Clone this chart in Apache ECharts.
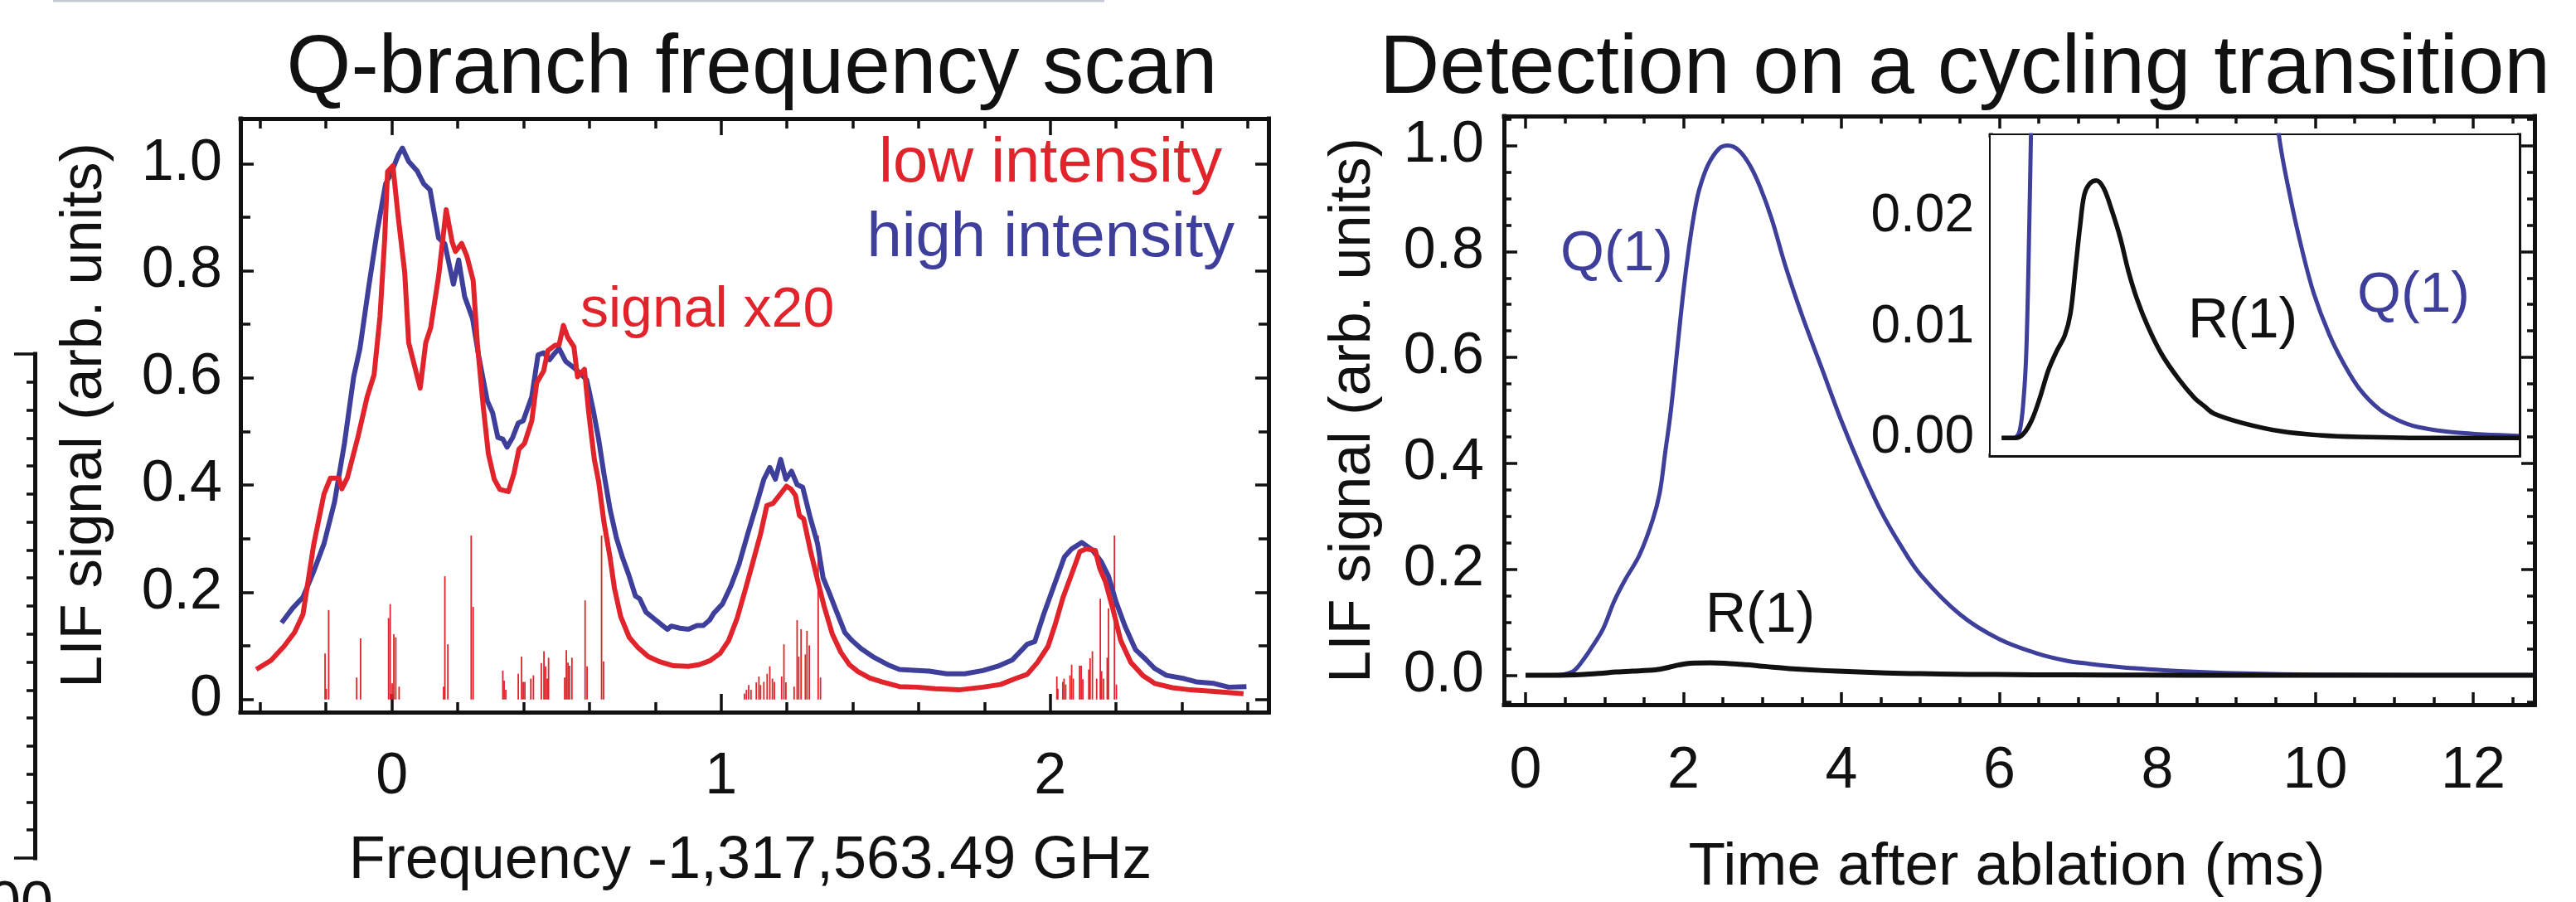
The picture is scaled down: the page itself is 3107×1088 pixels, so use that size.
<!DOCTYPE html>
<html>
<head>
<meta charset="utf-8">
<script src="https://cdn.jsdelivr.net/npm/echarts@6/dist/echarts.min.js"></script>
<style>
html,body{margin:0;padding:0;background:#fff;}
#c{width:3107px;height:1088px;}
</style>
</head>
<body>
<div id="c"></div>
<script>
// ---------------- DATA ----------------
// Left panel: Q-branch frequency scan  [frequency offset (GHz), LIF signal]
const lowIntensity = [[-0.412,0.056],[-0.367,0.073],[-0.328,0.099],[-0.296,0.125],[-0.270,0.159],[-0.238,0.287],[-0.206,0.384],[-0.187,0.413],[-0.161,0.413],[-0.152,0.393],[-0.135,0.414],[-0.103,0.49],[-0.075,0.565],[-0.054,0.606],[-0.036,0.715],[-0.022,0.857],[-0.013,0.985],[0.003,0.996],[0.019,0.902],[0.039,0.797],[0.051,0.666],[0.086,0.581],[0.103,0.666],[0.118,0.694],[0.142,0.790],[0.165,0.914],[0.183,0.854],[0.193,0.836],[0.212,0.851],[0.228,0.827],[0.247,0.782],[0.260,0.662],[0.277,0.550],[0.293,0.459],[0.311,0.411],[0.328,0.392],[0.354,0.388],[0.371,0.422],[0.386,0.467],[0.403,0.478],[0.425,0.520],[0.440,0.591],[0.461,0.613],[0.474,0.651],[0.496,0.661],[0.508,0.662],[0.521,0.698],[0.534,0.676],[0.553,0.658],[0.564,0.602],[0.585,0.616],[0.598,0.535],[0.615,0.448],[0.628,0.407],[0.644,0.332],[0.663,0.264],[0.676,0.208],[0.695,0.155],[0.721,0.116],[0.746,0.098],[0.779,0.080],[0.811,0.071],[0.856,0.063],[0.901,0.062],[0.933,0.065],[0.965,0.072],[0.997,0.086],[1.023,0.110],[1.049,0.152],[1.075,0.208],[1.097,0.257],[1.120,0.309],[1.139,0.362],[1.158,0.366],[1.181,0.384],[1.199,0.398],[1.212,0.393],[1.226,0.381],[1.238,0.343],[1.251,0.337],[1.271,0.279],[1.293,0.223],[1.313,0.174],[1.338,0.122],[1.364,0.088],[1.390,0.065],[1.416,0.052],[1.452,0.040],[1.488,0.033],[1.542,0.024],[1.596,0.023],[1.650,0.020],[1.723,0.018],[1.795,0.023],[1.849,0.028],[1.894,0.039],[1.930,0.047],[1.961,0.069],[1.993,0.099],[2.015,0.140],[2.038,0.189],[2.065,0.234],[2.090,0.276],[2.110,0.281],[2.137,0.278],[2.150,0.245],[2.168,0.219],[2.191,0.167],[2.214,0.110],[2.245,0.069],[2.281,0.045],[2.317,0.030],[2.371,0.022],[2.425,0.018],[2.497,0.015],[2.587,0.011]];

const highIntensity = [[-0.335,0.143],[-0.302,0.170],[-0.270,0.191],[-0.238,0.238],[-0.206,0.291],[-0.174,0.369],[-0.144,0.478],[-0.116,0.602],[-0.097,0.655],[-0.071,0.767],[-0.045,0.872],[-0.019,0.962],[-0.003,0.981],[0.019,1.015],[0.032,1.029],[0.051,1.004],[0.077,0.986],[0.097,0.962],[0.116,0.951],[0.142,0.861],[0.161,0.850],[0.187,0.775],[0.203,0.820],[0.221,0.752],[0.245,0.711],[0.264,0.640],[0.290,0.557],[0.306,0.535],[0.322,0.489],[0.337,0.486],[0.350,0.471],[0.367,0.489],[0.384,0.516],[0.399,0.520],[0.425,0.565],[0.444,0.643],[0.461,0.647],[0.479,0.634],[0.496,0.647],[0.508,0.655],[0.528,0.631],[0.553,0.619],[0.573,0.608],[0.592,0.596],[0.611,0.542],[0.628,0.486],[0.644,0.422],[0.663,0.354],[0.682,0.302],[0.701,0.264],[0.721,0.230],[0.740,0.193],[0.753,0.188],[0.772,0.163],[0.798,0.150],[0.824,0.137],[0.837,0.131],[0.849,0.137],[0.875,0.133],[0.901,0.131],[0.927,0.138],[0.946,0.138],[0.965,0.148],[0.978,0.161],[1.004,0.178],[1.030,0.212],[1.055,0.253],[1.081,0.309],[1.107,0.362],[1.130,0.411],[1.148,0.433],[1.165,0.411],[1.181,0.448],[1.197,0.411],[1.214,0.426],[1.231,0.401],[1.248,0.396],[1.271,0.339],[1.293,0.291],[1.310,0.227],[1.328,0.200],[1.349,0.167],[1.376,0.125],[1.398,0.110],[1.425,0.095],[1.461,0.080],[1.506,0.065],[1.542,0.056],[1.596,0.054],[1.632,0.053],[1.686,0.048],[1.740,0.048],[1.795,0.054],[1.840,0.062],[1.885,0.074],[1.930,0.103],[1.953,0.108],[1.980,0.159],[2.020,0.227],[2.043,0.266],[2.065,0.281],[2.096,0.293],[2.128,0.279],[2.155,0.257],[2.177,0.230],[2.200,0.182],[2.227,0.137],[2.259,0.093],[2.290,0.075],[2.317,0.058],[2.353,0.045],[2.407,0.039],[2.443,0.033],[2.497,0.030],[2.542,0.023],[2.596,0.024]];

// simulated stick spectrum [frequency, relative strength]
const stickSpectrum = [[-0.203,0.086],[-0.199,0.02],[-0.192,0.167],[-0.107,0.041],[-0.095,0.114],[-0.010,0.152],[-0.005,0.178],[0.001,0.03],[0.006,0.122],[0.012,0.116],[0.022,0.024],[0.157,0.024],[0.161,0.230],[0.170,0.103],[0.241,0.306],[0.247,0.173],[0.337,0.054],[0.341,0.035],[0.346,0.018],[0.384,0.048],[0.394,0.080],[0.399,0.033],[0.404,0.033],[0.422,0.039],[0.430,0.045],[0.454,0.068],[0.462,0.090],[0.467,0.062],[0.472,0.039],[0.476,0.078],[0.525,0.041],[0.530,0.092],[0.535,0.069],[0.540,0.063],[0.547,0.078],[0.587,0.185],[0.593,0.062],[0.637,0.306],[0.643,0.071],
[1.071,0.011],[1.077,0.018],[1.084,0.027],[1.091,0.018],[1.107,0.032],[1.115,0.043],[1.120,0.027],[1.130,0.033],[1.140,0.048],[1.148,0.062],[1.156,0.039],[1.162,0.033],[1.184,0.043],[1.191,0.103],[1.197,0.032],[1.222,0.024],[1.231,0.148],[1.236,0.080],[1.243,0.131],[1.256,0.084],[1.261,0.128],[1.268,0.101],[1.295,0.306],[1.302,0.041],
[2.020,0.043],[2.023,0.020],[2.038,0.033],[2.042,0.039],[2.047,0.028],[2.060,0.045],[2.065,0.065],[2.070,0.039],[2.089,0.063],[2.094,0.063],[2.099,0.038],[2.117,0.056],[2.121,0.077],[2.128,0.090],[2.141,0.039],[2.152,0.188],[2.156,0.053],[2.162,0.039],[2.173,0.078],[2.177,0.170],[2.195,0.306],[2.201,0.028]];

// Right panel: time after ablation (ms) vs LIF signal
const q1Signal = [[0,0],[0.30,0],[0.44,0.0006],[0.54,0.0035],[0.61,0.008],[0.68,0.019],[0.73,0.029],[0.81,0.046],[0.98,0.087],[1.12,0.139],[1.26,0.180],[1.44,0.226],[1.61,0.293],[1.70,0.345],[1.77,0.422],[1.84,0.499],[1.93,0.628],[2.00,0.726],[2.07,0.808],[2.14,0.875],[2.20,0.917],[2.31,0.963],[2.45,0.994],[2.56,1.0],[2.70,0.991],[2.84,0.963],[2.97,0.922],[3.12,0.860],[3.29,0.773],[3.50,0.68],[3.75,0.58],[4.00,0.48],[4.25,0.39],[4.50,0.31],[4.75,0.245],[5.00,0.19],[5.50,0.115],[6.00,0.068],[6.50,0.040],[6.85,0.0274],[7.14,0.0216],[7.43,0.0169],[7.71,0.0131],[8.09,0.0094],[8.47,0.0066],[8.85,0.0044],[9.33,0.0026],[9.80,0.0016],[10.28,0.0010],[11.23,0.0005],[12.78,0.0002]];
const r1Signal = [[0,0],[0.33,0],[0.53,0.00035],[0.74,0.0016],[0.94,0.0036],[1.15,0.0061],[1.35,0.0078],[1.56,0.0093],[1.70,0.0113],[1.83,0.0156],[1.94,0.0193],[2.04,0.0220],[2.17,0.0230],[2.34,0.0233],[2.52,0.0226],[2.72,0.0206],[2.93,0.0181],[3.13,0.0151],[3.34,0.0126],[3.61,0.0101],[3.95,0.0076],[4.36,0.0054],[4.77,0.0036],[5.00,0.0029],[5.25,0.0022],[5.96,0.00135],[6.91,0.0006],[7.86,0.00025],[8.81,0.0001],[10.71,0],[12.78,0]];

// Tick positions / labels
const freqLabels = [0, 1, 2];
const freqMinor = [-0.4,-0.2,0.2,0.4,0.6,0.8,1.2,1.4,1.6,1.8,2.2,2.4,2.6];
const sigLabelsL = [0, 0.2, 0.4, 0.6, 0.8, 1.0];
const sigMinorL = [0.1, 0.3, 0.5, 0.7, 0.9];
const timeLabels = [0, 2, 4, 6, 8, 10, 12];
const timeMinor = [0.5,1,1.5,2.5,3,3.5,4.5,5,5.5,6.5,7,7.5,8.5,9,9.5,10.5,11,11.5,12.5];
const sigLabelsR = [0, 0.2, 0.4, 0.6, 0.8, 1.0];
const sigMinorR = [0.05,0.1,0.15,0.25,0.3,0.35,0.45,0.5,0.55,0.65,0.7,0.75,0.85,0.9,0.95,1.05,-0.05];
const insetLabels = [0, 0.01, 0.02];
const insetMinor = [0.002,0.004,0.006,0.008,0.012,0.014,0.016,0.018,0.022,0.024,0.026];
const stubMajor = [0, 18];
const stubMinor = [1,2,3,4,5,6,7,8,9,10,11,12,13,14,15,16,17];

// ---------------- STYLE ----------------
const RED = '#e1232b', BLUE = '#3e3e9b', INK = '#111111';
const FONT = '"Liberation Sans", Arial, Helvetica, sans-serif';

function axis(grid, min, max, pos, opts) {
  const o = Object.assign({line: true, ticks: [], len: 10, labels: null, fmt: null, size: 68, margin: 20, name: null}, opts);
  const a = {
    type: 'value', gridIndex: grid, min: min, max: max, position: pos,
    axisLine: {show: o.line, onZero: false, lineStyle: {color: INK, width: 5, cap: 'square'}},
    axisTick: {show: o.ticks.length > 0, inside: true, length: o.len, customValues: o.ticks,
               lineStyle: {color: INK, width: 3.5}},
    axisLabel: o.labels ? {show: true, customValues: o.labels, formatter: o.fmt, fontSize: o.size,
               color: INK, fontFamily: FONT, margin: o.margin} : {show: false},
    splitLine: {show: false}, minorTick: {show: false}
  };
  if (o.name) Object.assign(a, o.name);
  return a;
}

const GL = {left: 290, top: 143, width: 1240, height: 716};   // left panel
const GR = {left: 1814, top: 140, width: 1243, height: 720};  // right panel
const GI = {left: 2401, top: 163, width: 637, height: 386};   // inset
const GS = {left: 2, top: 427, width: 40, height: 608};       // cropped neighbour axis

const xL = [-0.46, 2.663], yL = [-0.0236, 1.084];
const xR = [-0.273, 12.777], yR = [-0.0556, 1.0556];
const yI = [-0.00155, 0.0274];

const chart = echarts.init(document.getElementById('c'), null, {renderer: 'canvas'});

const xAxes = [
  // 0-3 left panel
  axis(0, xL[0], xL[1], 'bottom', {ticks: freqLabels, len: 22, labels: freqLabels, fmt: v => String(v), size: 70, margin: 44,
    name: {name: 'Frequency -1,317,563.49 GHz', nameLocation: 'middle', nameGap: 144,
           nameTextStyle: {fontSize: 72, color: INK, fontFamily: FONT, padding: [0, 10, 0, 0]}}}),
  axis(0, xL[0], xL[1], 'bottom', {line: false, ticks: freqMinor, len: 12}),
  axis(0, xL[0], xL[1], 'top', {ticks: freqLabels, len: 20}),
  axis(0, xL[0], xL[1], 'top', {line: false, ticks: freqMinor, len: 12}),
  // 4-7 right panel
  axis(1, xR[0], xR[1], 'bottom', {ticks: timeLabels, len: 15, labels: timeLabels, fmt: v => String(v), size: 70, margin: 46,
    name: {name: 'Time after ablation (ms)', nameLocation: 'middle', nameGap: 160,
           nameTextStyle: {fontSize: 73, color: INK, fontFamily: FONT, padding: [0, 30, 0, 0]}}}),
  axis(1, xR[0], xR[1], 'bottom', {line: false, ticks: timeMinor, len: 9}),
  axis(1, xR[0], xR[1], 'top', {ticks: timeLabels, len: 15}),
  axis(1, xR[0], xR[1], 'top', {line: false, ticks: timeMinor, len: 9}),
  // 8-11 inset
  axis(2, xR[0], xR[1], 'bottom', {ticks: timeLabels, len: 17}),
  axis(2, xR[0], xR[1], 'bottom', {line: false, ticks: timeMinor, len: 10}),
  axis(2, xR[0], xR[1], 'top', {ticks: timeLabels, len: 17}),
  axis(2, xR[0], xR[1], 'top', {line: false, ticks: timeMinor, len: 10}),
  // 12 stub
  {type: 'value', gridIndex: 3, min: 0, max: 1, show: false}
];

const yAxes = [
  // 0-3 left panel
  axis(0, yL[0], yL[1], 'left', {ticks: sigLabelsL, len: 16, labels: sigLabelsL, fmt: v => v === 0 ? '0' : v.toFixed(1), size: 70, margin: 22,
    name: {name: 'LIF signal (arb. units)', nameLocation: 'middle', nameGap: 152,
           nameTextStyle: {fontSize: 70, color: INK, fontFamily: FONT}}}),
  axis(0, yL[0], yL[1], 'left', {line: false, ticks: sigMinorL, len: 12}),
  axis(0, yL[0], yL[1], 'right', {ticks: sigLabelsL, len: 16}),
  axis(0, yL[0], yL[1], 'right', {line: false, ticks: sigMinorL, len: 12}),
  // 4-7 right panel
  axis(1, yR[0], yR[1], 'left', {ticks: sigLabelsR, len: 16, labels: sigLabelsR, fmt: v => v.toFixed(1), size: 70, margin: 24,
    name: {name: 'LIF signal (arb. units)', nameLocation: 'middle', nameGap: 146,
           nameTextStyle: {fontSize: 70, color: INK, fontFamily: FONT}}}),
  axis(1, yR[0], yR[1], 'left', {line: false, ticks: sigMinorR, len: 9}),
  axis(1, yR[0], yR[1], 'right', {ticks: sigLabelsR, len: 16}),
  axis(1, yR[0], yR[1], 'right', {line: false, ticks: sigMinorR, len: 9}),
  // 8-11 inset
  axis(2, yI[0], yI[1], 'left', {ticks: insetLabels, len: 15, labels: insetLabels, fmt: v => v.toFixed(2), size: 64, margin: 20}),
  axis(2, yI[0], yI[1], 'left', {line: false, ticks: insetMinor, len: 10}),
  axis(2, yI[0], yI[1], 'right', {ticks: insetLabels, len: 15}),
  axis(2, yI[0], yI[1], 'right', {line: false, ticks: insetMinor, len: 10}),
  // 12-13 stub (cropped neighbouring panel)
  axis(3, 0, 18, 'right', {ticks: stubMajor, len: 25}),
  axis(3, 0, 18, 'right', {line: false, ticks: stubMinor, len: 10})
];

function lineSeries(data, xi, yi, color, w, smooth) {
  return {type: 'line', data: data, xAxisIndex: xi, yAxisIndex: yi, showSymbol: false, symbol: 'none',
          smooth: smooth || false, clip: true, lineStyle: {color: color, width: w, join: 'round'}, z: 3};
}

const option = {
  animation: false,
  backgroundColor: '#ffffff',
  grid: [
    Object.assign({containLabel: false}, GL),
    Object.assign({containLabel: false}, GR),
    Object.assign({containLabel: false, show: true, backgroundColor: '#ffffff', borderWidth: 0, z: 5}, GI),
    Object.assign({containLabel: false}, GS)
  ],
  xAxis: xAxes,
  yAxis: yAxes,
  series: [
    {type: 'custom', xAxisIndex: 0, yAxisIndex: 0, data: stickSpectrum, clip: true, z: 2,
     renderItem: function (params, api) {
       const p0 = api.coord([api.value(0), 0]);
       const p1 = api.coord([api.value(0), api.value(1)]);
       return {type: 'line', shape: {x1: p0[0], y1: p0[1], x2: p1[0], y2: p1[1]},
               style: {stroke: RED, lineWidth: 1.8}};
     }},
    lineSeries(highIntensity, 0, 0, BLUE, 6),
    lineSeries(lowIntensity, 0, 0, RED, 6),
    lineSeries(q1Signal, 4, 4, BLUE, 5, 0.35),
    lineSeries(r1Signal, 4, 4, INK, 6, 0.35),
    Object.assign(lineSeries(q1Signal, 8, 8, BLUE, 5, 0.35), {z: 6}),
    Object.assign(lineSeries(r1Signal, 8, 8, INK, 5.5, 0.35), {z: 6})
  ],
  graphic: [
    {type: 'line', shape: {x1: 64, y1: 1, x2: 1332, y2: 1}, style: {stroke: '#c4c8d3', lineWidth: 3}, silent: true},
    {type: 'text', x: 907, y: 84, style: {text: 'Q-branch frequency scan', fontSize: 100, fontFamily: FONT, fill: INK, align: 'center', verticalAlign: 'middle'}},
    {type: 'text', x: 2370, y: 84, style: {text: 'Detection on a cycling transition', fontSize: 100, fontFamily: FONT, fill: INK, align: 'center', verticalAlign: 'middle'}},
    {type: 'text', x: 1474, y: 198, style: {text: 'low intensity', fontSize: 76, fontFamily: FONT, fill: RED, align: 'right', verticalAlign: 'middle'}},
    {type: 'text', x: 1489, y: 288, style: {text: 'high intensity', fontSize: 76, fontFamily: FONT, fill: BLUE, align: 'right', verticalAlign: 'middle'}},
    {type: 'text', x: 700, y: 375, style: {text: 'signal x20', fontSize: 68, fontFamily: FONT, fill: RED, align: 'left', verticalAlign: 'middle'}},
    {type: 'text', x: 1882, y: 307, style: {text: 'Q(1)', fontSize: 68, fontFamily: FONT, fill: BLUE, align: 'left', verticalAlign: 'middle'}},
    {type: 'text', x: 2057, y: 743, style: {text: 'R(1)', fontSize: 68, fontFamily: FONT, fill: INK, align: 'left', verticalAlign: 'middle'}},
    {type: 'text', x: 2639, y: 388, z: 100, style: {text: 'R(1)', fontSize: 68, fontFamily: FONT, fill: INK, align: 'left', verticalAlign: 'middle'}},
    {type: 'text', x: 2843, y: 357, z: 100, style: {text: 'Q(1)', fontSize: 68, fontFamily: FONT, fill: BLUE, align: 'left', verticalAlign: 'middle'}},
    {type: 'text', x: -14, y: 1058, style: {text: '00', fontSize: 70, fontFamily: FONT, fill: INK, align: 'left', verticalAlign: 'top'}}
  ]
};
chart.setOption(option);
</script>
</body>
</html>
